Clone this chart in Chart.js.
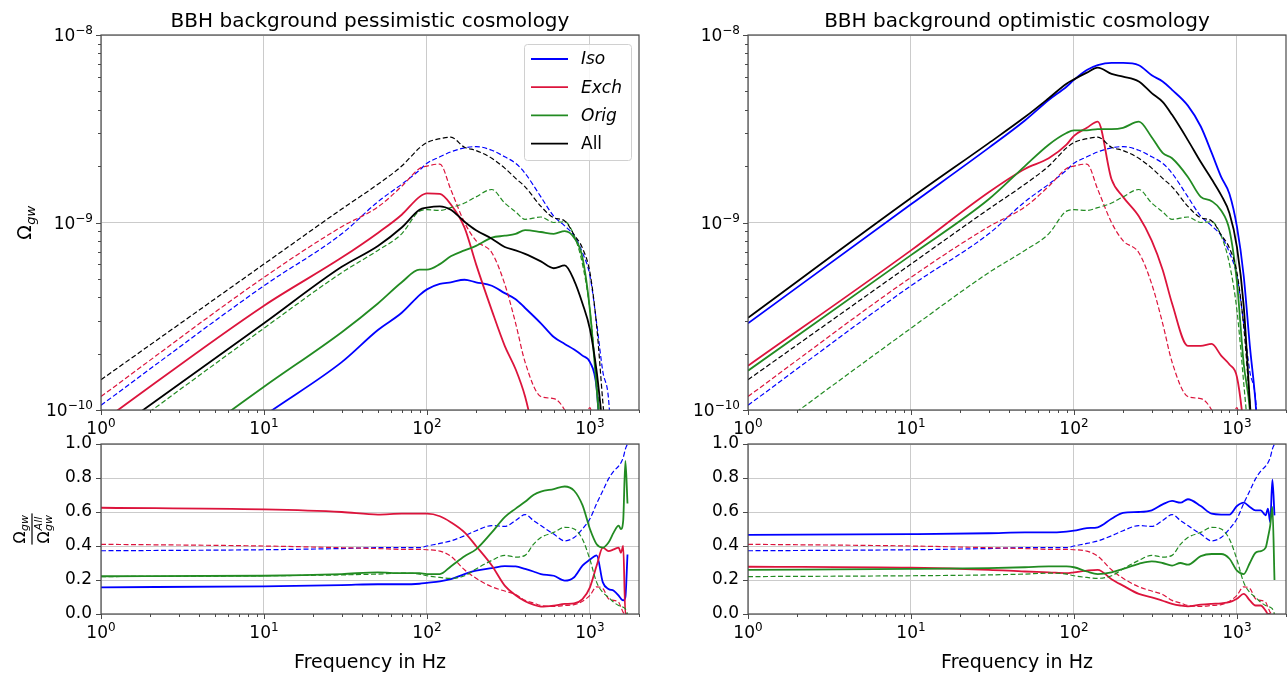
<!DOCTYPE html>
<html>
<head>
<meta charset="utf-8">
<title>BBH background</title>
<script src="https://cdn.jsdelivr.net/npm/chart.js@4.4.1/dist/chart.umd.min.js"></script>
<style>
  html, body { margin: 0; padding: 0; background: #ffffff; }
  #page { position: relative; width: 1287px; height: 673px; overflow: hidden; }
  #page canvas { position: absolute; left: 0; top: 0; }
</style>
</head>
<body>
<div id="page">
  <canvas id="pessTop" width="1287" height="673"></canvas>
  <canvas id="optTop" width="1287" height="673"></canvas>
  <canvas id="pessRatio" width="1287" height="673"></canvas>
  <canvas id="optRatio" width="1287" height="673"></canvas>
</div>
<script>
// ---- data ----
// frequencies (Hz) used by the upper panels
const freqTop = [1, 10, 30, 50, 70, 90, 100, 120, 140, 170, 200, 250, 300, 350, 400, 500, 600, 700, 800, 900, 1000, 1100, 1200, 1300, 1400];
// Omega_gw values, in units of 1e-10
const OMEGA_UNIT = 1e-10;

// dashed curves (same in both upper panels)
const refIso  = [1.06, 4.6, 8.7, 12.9, 16, 19, 20.7, 22.4, 23.8, 25, 25.4, 24.3, 22.4, 20.7, 18.3, 13.7, 10.8, 9.6, 8.5, 6.9, 5.2, 2.9, 1.6, 1.15, 0.4];
const refExch = [1.18, 5.1, 9.5, 12.1, 15.6, 19.4, 20, 20.5, 15, 10, 8.0, 6.9, 4.7, 2.9, 1.8, 1.18, 1.15, 1.0, 0.75, 0.8, 1.03, 0.5, 0.2, null, null];
const refOrig = [0.63, 2.73, 5.4, 7.1, 8.7, 11.5, 11.7, 11.6, 12, 12.7, 13.7, 15, 12.7, 11.4, 10.4, 10.7, 10, 10.1, 8.5, 6.0, 3.4, 1.4, 0.6, null, null];
const refAll  = [1.45, 6.0, 11.8, 16, 20, 25, 26.7, 28, 28.5, 25.2, 24.2, 22, 19.5, 17.2, 15.5, 12.2, 10.6, 10.2, 8.6, 7.3, 5.4, 2.8, 1.1, 0.5, null];

// pessimistic cosmology, solid curves
const pessIso  = [0.21, 0.93, 1.8, 2.67, 3.3, 4.1, 4.4, 4.7, 4.8, 4.95, 4.8, 4.6, 4.2, 3.9, 3.5, 2.9, 2.45, 2.25, 2.1, 1.95, 1.8, 1.3, 0.4, null, null];
const pessExch = [0.86, 3.6, 6.5, 8.8, 11, 13.7, 14.3, 14.2, 12.5, 9.4, 6.0, 3.4, 2.2, 1.65, 1.18, 0.5, 0.25, null, null, null, null, null, null, null, null];
const pessOrig = [0.31, 1.33, 2.6, 3.7, 4.8, 5.6, 5.6, 6.0, 6.6, 7.1, 7.5, 8.3, 8.5, 8.7, 9.1, 8.9, 8.7, 9.0, 8.3, 6.5, 3.4, 1.3, 0.5, null, null];
const pessAll  = [0.69, 2.9, 5.8, 7.5, 9.4, 11.7, 12.0, 12.2, 11.7, 10.1, 9.1, 8.2, 7.4, 7.1, 6.8, 6.2, 5.7, 5.9, 4.9, 3.7, 2.7, 1.6, 0.8, null, null];

// optimistic cosmology, solid curves
const optIso  = [2.9, 12.5, 25, 35, 45, 53, 57.6, 65, 69, 71, 71, 69, 61, 56.5, 51, 42, 32.5, 23.5, 17.5, 14.2, 9.5, 5.2, 2.2, 1.1, 0.4];
const optExch = [1.72, 7.1, 14.5, 19.3, 22, 26, 29, 32, 34.5, 17, 13.7, 10.8, 8, 5.6, 3.7, 2.2, 2.2, 2.25, 1.95, 1.75, 1.5, 0.8, 0.3, null, null];
const optOrig = [1.62, 6.7, 13.3, 20, 26, 30, 31, 31, 31.5, 31.5, 32, 34.5, 28.5, 23.5, 22, 17.5, 13.7, 13, 11.6, 9.1, 4.8, 1.77, 1.0, 0.3, null];
const optAll  = [3.1, 13.5, 26.5, 36.5, 46, 55, 58, 63, 67, 62, 60, 56.5, 49, 44, 37.5, 27.5, 21, 17, 14, 11.2, 7.4, 3.6, 1.1, 0.4, null];

// frequencies (Hz) used by the ratio panels
const freqRatio = [1, 10, 30, 50, 70, 90, 100, 120, 140, 170, 200, 250, 300, 350, 400, 450, 500, 600, 700, 800, 900, 1000, 1100, 1200, 1300, 1400, 1500, 1550, 1600, 1650, 1700];

// dashed ratios (same in both lower panels)
const ratioRefIso  = [0.372, 0.378, 0.385, 0.39, 0.39, 0.39, 0.40, 0.415, 0.43, 0.46, 0.49, 0.52, 0.515, 0.55, 0.585, 0.55, 0.52, 0.47, 0.43, 0.45, 0.50, 0.56, 0.65, 0.725, 0.795, 0.84, 0.87, 0.89, 0.92, 0.97, 1.0];
const ratioRefExch = [0.41, 0.40, 0.39, 0.385, 0.38, 0.38, 0.378, 0.37, 0.34, 0.26, 0.21, 0.16, 0.135, 0.115, 0.08, 0.065, 0.05, 0.045, 0.05, 0.055, 0.075, 0.11, 0.16, 0.15, 0.09, 0.08, 0.07, 0.04, 0.01, 0.0, 0.0];
const ratioRefOrig = [0.22, 0.225, 0.23, 0.235, 0.24, 0.235, 0.225, 0.215, 0.21, 0.225, 0.265, 0.315, 0.345, 0.335, 0.345, 0.41, 0.45, 0.48, 0.51, 0.50, 0.44, 0.32, 0.186, 0.127, 0.098, 0.069, 0.05, 0.045, 0.04, 0.03, 0.0];

// solid ratios, pessimistic
const ratioPessIso  = [0.157, 0.163, 0.17, 0.175, 0.175, 0.178, 0.183, 0.192, 0.205, 0.235, 0.255, 0.27, 0.282, 0.28, 0.265, 0.25, 0.235, 0.225, 0.196, 0.216, 0.284, 0.32, 0.345, 0.186, 0.147, 0.137, 0.108, 0.09, 0.08, 0.1, 0.35];
const ratioPessExch = [0.625, 0.615, 0.60, 0.585, 0.59, 0.59, 0.59, 0.575, 0.54, 0.48, 0.40, 0.285, 0.167, 0.11, 0.075, 0.055, 0.043, 0.049, 0.059, 0.063, 0.088, 0.157, 0.285, 0.39, 0.37, 0.38, 0.39, 0.36, 0.40, 0.0, 0.0];
const ratioPessOrig = [0.222, 0.225, 0.235, 0.245, 0.24, 0.24, 0.235, 0.235, 0.28, 0.34, 0.38, 0.48, 0.57, 0.62, 0.66, 0.70, 0.72, 0.735, 0.75, 0.725, 0.64, 0.50, 0.41, 0.39, 0.42, 0.48, 0.52, 0.50, 0.55, 0.90, 0.65];

// solid ratios, optimistic
const ratioOptIso  = [0.465, 0.47, 0.475, 0.48, 0.48, 0.485, 0.49, 0.505, 0.51, 0.56, 0.595, 0.60, 0.61, 0.645, 0.665, 0.655, 0.675, 0.635, 0.59, 0.585, 0.585, 0.635, 0.655, 0.63, 0.61, 0.61, 0.58, 0.62, 0.54, 0.79, 0.58];
const ratioOptExch = [0.278, 0.272, 0.26, 0.25, 0.245, 0.24, 0.245, 0.255, 0.26, 0.205, 0.167, 0.118, 0.098, 0.078, 0.06, 0.05, 0.045, 0.055, 0.06, 0.063, 0.07, 0.09, 0.118, 0.08, 0.05, 0.05, 0.02, 0.0, 0.0, null, null];
const ratioOptOrig = [0.26, 0.265, 0.27, 0.275, 0.28, 0.28, 0.275, 0.25, 0.235, 0.245, 0.265, 0.295, 0.31, 0.30, 0.285, 0.30, 0.29, 0.34, 0.353, 0.353, 0.325, 0.255, 0.235, 0.30, 0.36, 0.37, 0.39, 0.45, 0.52, 0.63, 0.2];

// tick labels
const freqDecades = [0, 1, 2, 3];          // 10^0 .. 10^3 Hz
const omegaDecades = [-10, -9, -8];
const ratioTicks = [0.0, 0.2, 0.4, 0.6, 0.8, 1.0];

const seriesNames = ['Iso', 'Exch', 'Orig', 'All'];
const seriesColors = ['#0000ff', '#dc143c', '#228b22', '#000000'];

// ---- layout ----
const PAGE_W = 1287, PAGE_H = 673;
const Y_AXIS_W = 60, X_AXIS_H = 30;
const GRID = '#cbcbcb';
const SPINE = '#4a4a4a';
const FONT = '"DejaVu Sans", sans-serif';

Chart.defaults.font.family = FONT;
Chart.defaults.animation = false;

function isDecade(v) {
  const l = Math.log10(v);
  return Math.abs(l - Math.round(l)) < 1e-6;
}

function isMinorLog(v) {
  // values of the form d * 10^k with integer d
  const k = Math.floor(Math.log10(v) + 1e-9);
  const d = v / Math.pow(10, k);
  return Math.abs(d - Math.round(d)) < 1e-6;
}

function toPoints(freqs, values, unit) {
  return freqs.map((f, i) => ({ x: f, y: values[i] == null ? null : values[i] * unit }));
}

function lineSet(label, freqs, values, unit, color, dashed) {
  return {
    label: label,
    data: toPoints(freqs, values, unit),
    borderColor: color,
    backgroundColor: color,
    borderWidth: dashed ? 1.2 : 1.8,
    borderDash: dashed ? [5, 2.5] : [],
    pointRadius: 0,
    cubicInterpolationMode: 'monotone',
    fill: false,
    spanGaps: false
  };
}

// solid + dashed for each series; reversed so the first series sits at the bottom
function buildSets(freqs, solids, dashes, unit) {
  const sets = [];
  seriesNames.forEach((name, i) => {
    if (solids[i]) sets.push(lineSet(name, freqs, solids[i], unit, seriesColors[i], false));
    if (dashes[i]) sets.push(lineSet(name + ' ref', freqs, dashes[i], unit, seriesColors[i], true));
  });
  return sets.reverse();
}

function drawPower(ctx, x, baseline, exp, align) {
  const base = '10';
  const sup = exp < 0 ? '\u2212' + (-exp) : String(exp);
  ctx.font = '17px ' + FONT;
  const bw = ctx.measureText(base).width;
  ctx.font = '12px ' + FONT;
  const sw = ctx.measureText(sup).width;
  const left = align === 'right' ? x - bw - sw : x - (bw + sw) / 2;
  ctx.textAlign = 'left';
  ctx.textBaseline = 'alphabetic';
  ctx.fillStyle = '#000';
  ctx.font = '17px ' + FONT;
  ctx.fillText(base, left, baseline);
  ctx.font = '12px ' + FONT;
  ctx.fillText(sup, left + bw, baseline - 7);
}

// Omega_gw (optionally with ^All), drawn from x along the current baseline
function omegaWidth(ctx, size, withAll) {
  ctx.font = size + 'px ' + FONT;
  const w = ctx.measureText('\u03A9').width;
  ctx.font = 'italic ' + Math.round(size * 0.7) + 'px ' + FONT;
  const s = ctx.measureText('gw').width;
  const a = withAll ? ctx.measureText('All').width : 0;
  return w + Math.max(s, a) + 1;
}

function drawOmega(ctx, x, y, size, withAll) {
  const small = Math.round(size * 0.7);
  ctx.textAlign = 'left';
  ctx.textBaseline = 'alphabetic';
  ctx.fillStyle = '#000';
  ctx.font = size + 'px ' + FONT;
  ctx.fillText('\u03A9', x, y);
  const w = ctx.measureText('\u03A9').width;
  ctx.font = 'italic ' + small + 'px ' + FONT;
  ctx.fillText('gw', x + w + 0.5, y + size * 0.2);
  if (withAll) ctx.fillText('All', x + w + 1, y - size * 0.42);
}

function drawLegend(ctx, area) {
  const w = 107, h = 116;
  const x0 = area.right - 8 - w, y0 = area.top + 9;
  ctx.save();
  ctx.beginPath();
  ctx.roundRect(x0 + 0.5, y0 + 0.5, w, h, 3);
  ctx.fillStyle = 'rgba(255,255,255,0.85)';
  ctx.fill();
  ctx.strokeStyle = '#d0d0d0';
  ctx.lineWidth = 1;
  ctx.stroke();
  seriesNames.forEach((name, i) => {
    const y = y0 + 15 + i * 28.2;
    ctx.beginPath();
    ctx.moveTo(x0 + 7, y);
    ctx.lineTo(x0 + 44, y);
    ctx.strokeStyle = seriesColors[i];
    ctx.lineWidth = 1.8;
    ctx.stroke();
    ctx.fillStyle = '#000';
    ctx.font = (name === 'All' ? '' : 'italic ') + '17px ' + FONT;
    ctx.textAlign = 'left';
    ctx.textBaseline = 'middle';
    ctx.fillText(name, x0 + 57, y + 1);
  });
  ctx.restore();
}

function decor(panel) {
  return {
    id: 'decor',
    afterDraw(chart) {
      const ctx = chart.ctx;
      const a = chart.chartArea;
      const xs = chart.scales.x, ys = chart.scales.y;
      ctx.save();

      // tick marks (outside, major longer than minor)
      ctx.strokeStyle = SPINE;
      ctx.lineWidth = 1;
      ctx.beginPath();
      xs.ticks.forEach(t => {
        if (!isMinorLog(t.value)) return;
        const px = Math.round(xs.getPixelForValue(t.value)) + 0.5;
        const len = isDecade(t.value) ? 5 : 3;
        ctx.moveTo(px, a.bottom);
        ctx.lineTo(px, a.bottom + len);
      });
      ys.ticks.forEach(t => {
        let len = 5;
        if (panel.logY) {
          if (!isMinorLog(t.value)) return;
          len = isDecade(t.value) ? 5 : 3;
        }
        const py = Math.round(ys.getPixelForValue(t.value)) + 0.5;
        ctx.moveTo(a.left, py);
        ctx.lineTo(a.left - len, py);
      });
      ctx.stroke();

      // frame
      ctx.strokeStyle = SPINE;
      ctx.lineWidth = 1.2;
      ctx.strokeRect(a.left, a.top, a.right - a.left, a.bottom - a.top);

      // x tick labels 10^n
      freqDecades.forEach(d => {
        drawPower(ctx, xs.getPixelForValue(Math.pow(10, d)), a.bottom + 24, d, 'center');
      });
      // y tick labels on the log panels
      if (panel.logY) {
        omegaDecades.forEach(d => {
          drawPower(ctx, a.left - 8, ys.getPixelForValue(Math.pow(10, d)) + 6, d, 'right');
        });
      }

      const cx = (a.left + a.right) / 2;
      ctx.fillStyle = '#000';
      ctx.textBaseline = 'alphabetic';
      if (panel.title) {
        ctx.font = '20px ' + FONT;
        ctx.textAlign = 'center';
        ctx.fillText(panel.title, cx, a.top - 8);
      }
      if (panel.xLabel) {
        ctx.font = '19px ' + FONT;
        ctx.textAlign = 'center';
        ctx.fillText(panel.xLabel, cx, a.bottom + 54);
      }
      const cy = (a.top + a.bottom) / 2;
      if (panel.yLabel === 'omega') {
        ctx.save();
        ctx.translate(31, cy);
        ctx.rotate(-Math.PI / 2);
        const w = omegaWidth(ctx, 19, false);
        drawOmega(ctx, -w / 2, 0, 19, false);
        ctx.restore();
      } else if (panel.yLabel === 'ratio') {
        ctx.save();
        ctx.translate(32, cy);
        ctx.rotate(-Math.PI / 2);
        const wn = omegaWidth(ctx, 16, false);
        const wd = omegaWidth(ctx, 16, true);
        const wb = Math.max(wn, wd) + 2;
        drawOmega(ctx, -wn / 2, -7, 16, false);
        ctx.fillRect(-wb / 2, -0.6, wb, 1.2);
        drawOmega(ctx, -wd / 2, 17, 16, true);
        ctx.restore();
      }
      if (panel.legend) drawLegend(ctx, a);
      ctx.restore();
    }
  };
}

function buildPanel(canvasId, area, logY, sets, panel) {
  const gridColor = c => (logY ? (isDecade(c.tick.value) ? GRID : 'rgba(0,0,0,0)') : GRID);
  const yScale = logY ? {
    type: 'logarithmic',
    min: Math.pow(10, omegaDecades[0]),
    max: Math.pow(10, omegaDecades[omegaDecades.length - 1]),
    ticks: { display: false },
    grid: { color: gridColor, drawTicks: false, lineWidth: 1 },
    border: { display: false },
    afterFit: s => { s.width = Y_AXIS_W; }
  } : {
    type: 'linear',
    min: ratioTicks[0],
    max: ratioTicks[ratioTicks.length - 1],
    afterBuildTicks: s => { s.ticks = ratioTicks.map(v => ({ value: v })); },
    ticks: {
      callback: v => Number(v).toFixed(1),
      color: '#000',
      padding: 9,
      font: { family: FONT, size: 17 }
    },
    grid: { color: GRID, drawTicks: false, lineWidth: 1 },
    border: { display: false },
    afterFit: s => { s.width = Y_AXIS_W; }
  };

  return new Chart(document.getElementById(canvasId), {
    type: 'line',
    data: { datasets: sets },
    options: {
      responsive: false,
      animation: false,
      events: [],
      layout: {
        padding: {
          left: area.left - Y_AXIS_W,
          right: PAGE_W - area.right,
          top: area.top,
          bottom: PAGE_H - area.bottom - X_AXIS_H
        }
      },
      plugins: { legend: { display: false }, tooltip: { enabled: false } },
      scales: {
        x: {
          type: 'logarithmic',
          min: 1,
          max: 2000,
          ticks: { display: false },
          grid: {
            color: c => (isDecade(c.tick.value) ? GRID : 'rgba(0,0,0,0)'),
            drawTicks: false,
            lineWidth: 1
          },
          border: { display: false },
          afterFit: s => { s.height = X_AXIS_H; }
        },
        y: yScale
      }
    },
    plugins: [decor(panel)]
  });
}

const leftCol = { left: 101, right: 639 };
const rightCol = { left: 748, right: 1286 };
const topRow = { top: 35, bottom: 410 };
const bottomRow = { top: 444, bottom: 614 };

const refTop = [refIso, refExch, refOrig, refAll];
const refRatio = [ratioRefIso, ratioRefExch, ratioRefOrig, null];

buildPanel('pessTop', Object.assign({}, leftCol, topRow), true,
  buildSets(freqTop, [pessIso, pessExch, pessOrig, pessAll], refTop, OMEGA_UNIT),
  { logY: true, title: 'BBH background pessimistic cosmology', yLabel: 'omega', legend: true });

buildPanel('optTop', Object.assign({}, rightCol, topRow), true,
  buildSets(freqTop, [optIso, optExch, optOrig, optAll], refTop, OMEGA_UNIT),
  { logY: true, title: 'BBH background optimistic cosmology' });

buildPanel('pessRatio', Object.assign({}, leftCol, bottomRow), false,
  buildSets(freqRatio, [ratioPessIso, ratioPessExch, ratioPessOrig, null], refRatio, 1),
  { logY: false, xLabel: 'Frequency in Hz', yLabel: 'ratio' });

buildPanel('optRatio', Object.assign({}, rightCol, bottomRow), false,
  buildSets(freqRatio, [ratioOptIso, ratioOptExch, ratioOptOrig, null], refRatio, 1),
  { logY: false, xLabel: 'Frequency in Hz' });
</script>
</body>
</html>
